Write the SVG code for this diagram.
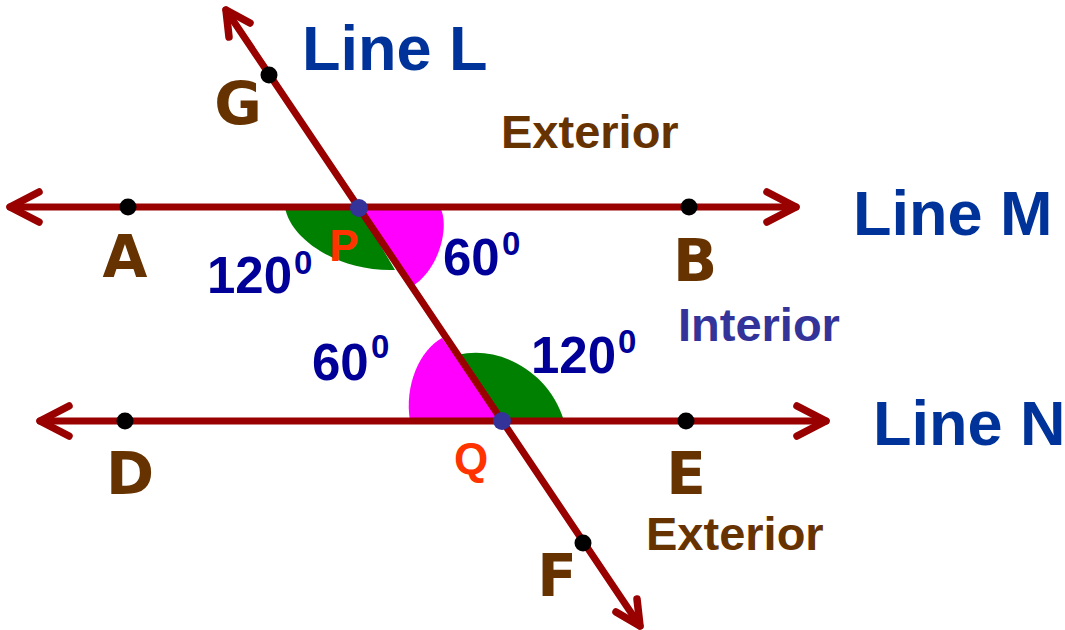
<svg xmlns="http://www.w3.org/2000/svg" width="1065" height="630" viewBox="0 0 1065 630">
<style>
.ln{stroke:#990000;stroke-width:7;fill:none;stroke-linecap:round}
.ah{stroke:#990000;stroke-width:7.5;fill:none;stroke-linecap:round;stroke-linejoin:round}
.pt{fill:#000000}
.ix{fill:#333399}
.lbl{font-family:"Comic Sans MS","DejaVu Sans",sans-serif;font-weight:bold;font-size:58px;fill:#663300;text-anchor:middle}
.title{font-family:"Liberation Sans",Arial,sans-serif;font-weight:bold;font-size:63px;fill:#003399}
.ext{font-family:"Liberation Sans",Arial,sans-serif;font-weight:bold;font-size:47px;fill:#663300}
.int{font-family:"Liberation Sans",Arial,sans-serif;font-weight:bold;font-size:47px;fill:#333399}
.ang{font-family:"Liberation Sans",Arial,sans-serif;font-weight:bold;font-size:51px;fill:#000099}
.sup{font-family:"Liberation Sans",Arial,sans-serif;font-weight:bold;font-size:33px;fill:#000099}
.pq{font-family:"Liberation Sans",Arial,sans-serif;font-weight:bold;font-size:44px;fill:#ff3300;text-anchor:middle}
.green{fill:#008000}
.mag{fill:#ff00ff}
</style>
<rect width="1065" height="630" fill="#ffffff"/>
<g id="angles">
  <path class="green" d="M358,207 L285,207 C290,240 340,272 395,270 Z"/>
  <path class="mag" d="M358,207 L440,207 C450,225 440,270 411,287 Z"/>
  <path class="mag" d="M502,421 L410,421 C404,385 420,350 442,338 Z"/>
  <path class="green" d="M502,421 L458,355 C495,345 548,368 564,421 Z"/>
</g>
<g id="connectors">
  <line class="ln" x1="10" y1="207" x2="796" y2="207"/>
  <polyline class="ah" points="39,192 10,207 39,222"/>
  <polyline class="ah" points="767,192 796,207 767,222"/>
  <line class="ln" x1="40" y1="421" x2="826" y2="421"/>
  <polyline class="ah" points="69,406 40,421 69,436"/>
  <polyline class="ah" points="797,406 826,421 797,436"/>
  <line class="ln" x1="226" y1="10" x2="640" y2="626"/>
  <polyline class="ah" points="229,37 226,10 250,23"/>
  <polyline class="ah" points="637,599 640,626 616,612"/>
</g>
<g id="node-G"><circle class="pt" cx="269" cy="75" r="8.5"/><text class="lbl" x="238" y="124">G</text></g>
<g id="node-A"><circle class="pt" cx="128" cy="207" r="8.5"/><text class="lbl" x="125" y="277">A</text></g>
<g id="node-B"><circle class="pt" cx="689" cy="207" r="8.5"/><text class="lbl" x="695" y="281">B</text></g>
<g id="node-D"><circle class="pt" cx="125" cy="421" r="8.5"/><text class="lbl" x="130" y="494">D</text></g>
<g id="node-E"><circle class="pt" cx="686" cy="421" r="8.5"/><text class="lbl" x="686" y="494">E</text></g>
<g id="node-F"><circle class="pt" cx="583" cy="543" r="8.5"/><text class="lbl" x="557" y="596">F</text></g>
<g id="node-P"><circle class="ix" cx="359" cy="208" r="9"/><text class="pq" x="344" y="261">P</text></g>
<g id="node-Q"><circle class="ix" cx="502" cy="421" r="9"/><text class="pq" x="471" y="474">Q</text></g>
<g id="labels">
  <text class="title" x="302" y="70">Line L</text>
  <text class="title" x="853" y="235">Line M</text>
  <text class="title" x="873" y="445" font-size="60">Line N</text>
  <text class="ext" x="501" y="148">Exterior</text>
  <text class="ext" x="646" y="550">Exterior</text>
  <text class="int" x="678" y="341">Interior</text>
  <text class="ang" x="207" y="293">120</text><text class="sup" x="294" y="274">0</text>
  <text class="ang" x="443" y="275">60</text><text class="sup" x="502" y="255">0</text>
  <text class="ang" x="312" y="380">60</text><text class="sup" x="371" y="358">0</text>
  <text class="ang" x="531" y="373">120</text><text class="sup" x="618" y="353">0</text>
</g>
</svg>
